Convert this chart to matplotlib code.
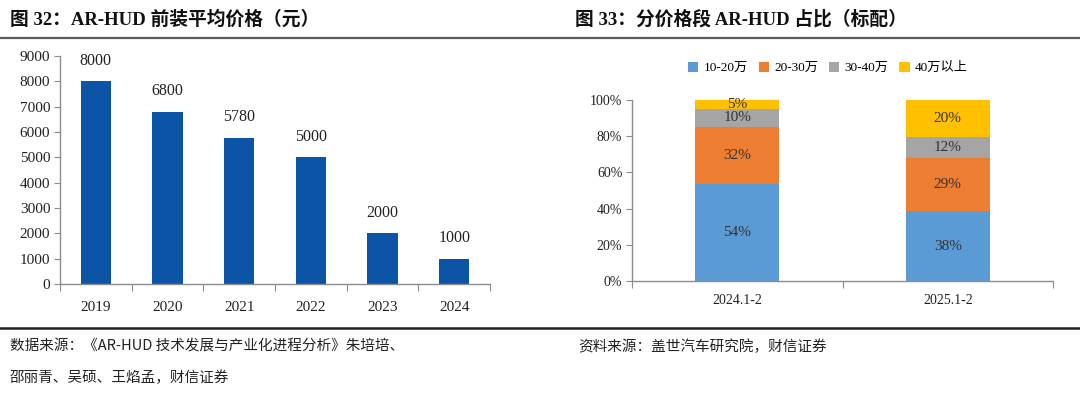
import matplotlib
matplotlib.use('Agg')
import matplotlib.pyplot as plt
from matplotlib.lines import Line2D
import numpy as np

plt.rcParams['font.family'] = ['Liberation Serif', 'Noto Sans CJK SC']

# left chart: AR-HUD average price
years = ['2019', '2020', '2021', '2022', '2023', '2024']
prices = [8000, 6800, 5780, 5000, 2000, 1000]

# right chart: share by price band
periods = ['2024.1-2', '2025.1-2']
bands = ['10-20万', '20-30万', '30-40万', '40万以上']
shares = {
    '10-20万': [53.6, 38.4],
    '20-30万': [31.6, 29.3],
    '30-40万': [9.9, 12.1],
    '40万以上': [4.9, 20.2],
}
band_colors = ['#5B9BD5', '#ED7D31', '#A5A5A5', '#FFC000']

W, H = 1080, 394
fig = plt.figure(figsize=(W / 100, H / 100), dpi=100)


def px_axes(x0, y_top, x1, y_bot):
    return fig.add_axes([x0 / W, 1 - y_bot / H, (x1 - x0) / W, (y_bot - y_top) / H])


def style_axes(ax, n):
    for s in ['top', 'right']:
        ax.spines[s].set_visible(False)
    for s in ['left', 'bottom']:
        ax.spines[s].set_color('#8c8c8c')
        ax.spines[s].set_linewidth(1.0)
    ax.set_xlim(-0.5, n - 0.5)
    ax.set_xticks(np.arange(n + 1) - 0.5)
    ax.set_xticklabels([])
    ax.tick_params(axis='x', which='major', length=5, color='#8c8c8c', direction='out')
    ax.tick_params(axis='y', length=4, color='#8c8c8c', direction='out',
                   labelsize=11, labelcolor='#222222', pad=3)


# titles and rules
fig.text(10 / W, 1 - 19 / H, '图 32：AR-HUD 前装平均价格（元）', fontsize=13.5,
         fontweight='bold', va='center', ha='left', color='#111111')
fig.text(575 / W, 1 - 19 / H, '图 33：分价格段 AR-HUD 占比（标配）', fontsize=13.5,
         fontweight='bold', va='center', ha='left', color='#111111')
fig.add_artist(Line2D([0, 1], [1 - 37.5 / H] * 2, color='#5a5a5a', lw=1.6))
fig.add_artist(Line2D([0, 1], [1 - 328 / H] * 2, color='#222222', lw=1.8))

# left chart
ax1 = px_axes(60, 56, 490, 284)
style_axes(ax1, len(years))
x = np.arange(len(years))
ax1.bar(x, prices, width=0.42, color='#0B54A6')
ax1.set_ylim(0, 9000)
ax1.set_yticks(np.arange(0, 9001, 1000))
ax1.set_xticks(x, minor=True)
ax1.set_xticklabels(years, minor=True)
ax1.tick_params(axis='x', which='minor', length=0, labelsize=11, labelcolor='#222222', pad=12)
for xi, v in zip(x, prices):
    ax1.annotate(str(v), (xi, v), xytext=(0, 9), textcoords='offset points',
                 ha='center', va='bottom', fontsize=11.5, color='#222222')

# right chart
ax2 = px_axes(632, 100, 1053, 281)
style_axes(ax2, len(periods))
xp = np.arange(len(periods))
bottom = np.zeros(len(periods))
for band, c in zip(bands, band_colors):
    vals = np.array(shares[band])
    ax2.bar(xp, vals, bottom=bottom, width=0.4, color=c, label=band)
    for xi, b, v in zip(xp, bottom, vals):
        ax2.text(xi, b + v / 2, '%.0f%%' % v, ha='center', va='center',
                 fontsize=11, color='#333333')
    bottom += vals
ax2.set_ylim(0, 100)
ax2.set_yticks(np.arange(0, 101, 20))
ax2.set_yticklabels(['%d%%' % t for t in range(0, 101, 20)])
ax2.set_xticks(xp, minor=True)
ax2.set_xticklabels(periods, minor=True)
ax2.tick_params(axis='x', which='minor', length=0, labelsize=10, labelcolor='#222222', pad=9)
ax2.tick_params(axis='y', labelsize=10)
ax2.legend(loc='center', bbox_to_anchor=(828 / W, 1 - 68 / H), bbox_transform=fig.transFigure,
           ncol=4, frameon=False, fontsize=9.5, handlelength=0.8, handleheight=0.8,
           handletextpad=0.4, columnspacing=0.8)

# sources
src_kw = dict(fontsize=10.5, color='#222222', va='center', ha='left',
              family=['Noto Sans CJK SC', 'DejaVu Sans'])
fig.text(10 / W, 1 - 347 / H, '数据来源：《AR-HUD 技术发展与产业化进程分析》朱培培、', **src_kw)
fig.text(10 / W, 1 - 378 / H, '邵丽青、吴硕、王焰孟，财信证券', **src_kw)
fig.text(578 / W, 1 - 347 / H, '资料来源：盖世汽车研究院，财信证券', **src_kw)

fig.savefig('out.png', dpi=100)
